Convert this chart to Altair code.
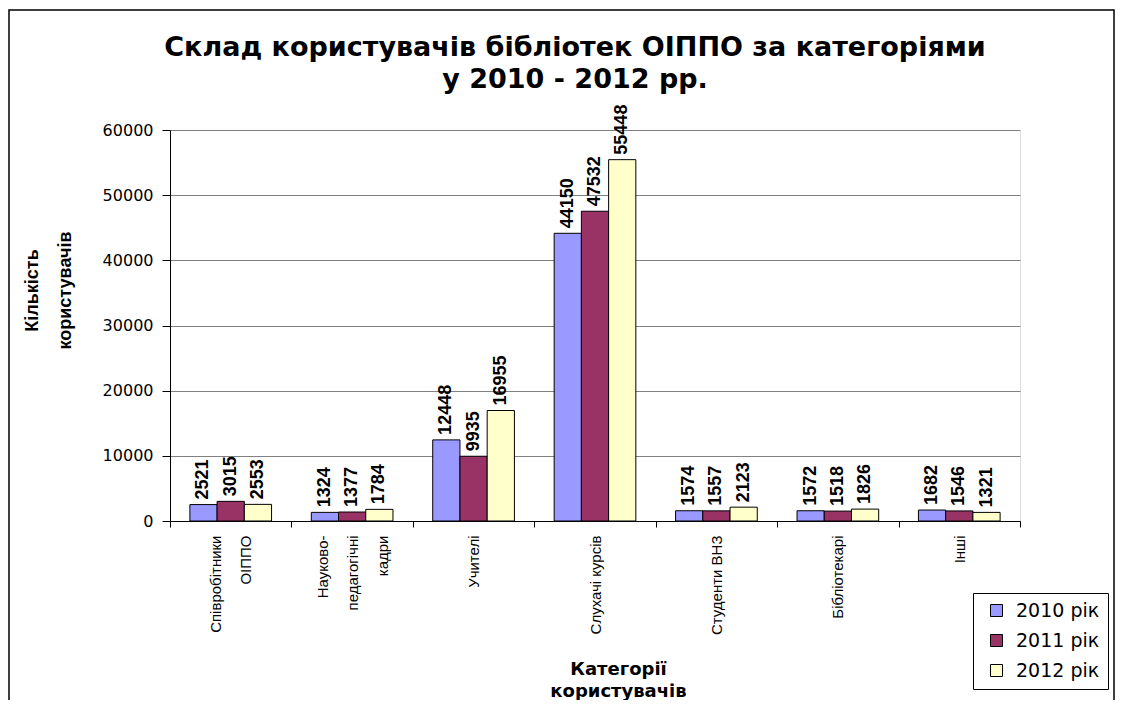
import json
import altair as alt
import pandas as pd

categories = ["Співробітники ОІППО", "Науково-педагогічні кадри", "Учителі",
              "Слухачі курсів", "Студенти ВНЗ", "Бібліотекарі", "Інші"]
category_lines = [["Співробітники", "ОІППО"], ["Науково-", "педагогічні", "кадри"],
                  ["Учителі"], ["Слухачі курсів"], ["Студенти ВНЗ"], ["Бібліотекарі"], ["Інші"]]
series = ["2010 рік", "2011 рік", "2012 рік"]
v2010 = [2521, 1324, 12448, 44150, 1574, 1572, 1682]
v2011 = [3015, 1377, 9935, 47532, 1557, 1518, 1546]
v2012 = [2553, 1784, 16955, 55448, 2123, 1826, 1321]
colors = ["#9999FF", "#993366", "#FFFFCC"]
y_ticks = [0, 10000, 20000, 30000, 40000, 50000, 60000]
title_lines = ["Склад користувачів бібліотек ОІППО за категоріями", "у 2010 - 2012 рр."]
y_title = ["Кількість", "користувачів"]
x_title = ["Категорії", "користувачів"]

# centring of short lines inside rotated, right-aligned multi-line labels
line_pad = {"ОІППО": 7, "кадри": 5, "Науково-": 1}
LINE_H = 30

rows = []
for s, vals in zip(series, [v2010, v2011, v2012]):
    for c, v in zip(categories, vals):
        rows.append({"cat": c, "year": s, "value": v})
df = pd.DataFrame(rows)

label_expr = ""
for c, lines in zip(categories, category_lines):
    padded = [ln + "\u00a0" * line_pad.get(ln, 0) for ln in lines]
    label_expr += f"datum.label == {json.dumps(c)} ? {json.dumps(padded, ensure_ascii=False)} : "
label_expr += "datum.label"

offset_conditions = []
for c, lines in zip(categories, category_lines):
    if len(lines) > 1:
        offset_conditions.append({"test": f"datum.label == {json.dumps(c)}",
                                  "value": -(len(lines) - 1) * LINE_H / 2})

SANS = "Liberation Sans, Arial"
WIDE = "DejaVu Sans"

x_enc = alt.X("cat:N", sort=categories,
              scale=alt.Scale(paddingInner=0, paddingOuter=0),
              axis=alt.Axis(title=x_title, labelExpr=label_expr, labelAngle=270,
                            labelAlign="right", labelBaseline="middle",
                            labelFont=SANS, labelFontSize=15, labelLineHeight=LINE_H,
                            labelColor="black", labelPadding=8,
                            labelOffset={"condition": offset_conditions, "value": 0},
                            tickBand="extent", tickSize=6, tickColor="black",
                            domainColor="black", grid=False,
                            titleFont=WIDE, titleFontSize=18, titleFontWeight="bold",
                            titleColor="black", titleLineHeight=22,
                            titleX=448, titleY=153, titleAlign="center",
                            titleBaseline="alphabetic", titleAnchor="start"))
xoff_enc = alt.XOffset("year:N", sort=series,
                       scale=alt.Scale(paddingInner=0, paddingOuter=0.73))
y_enc = alt.Y("value:Q", scale=alt.Scale(domain=[0, 60000], nice=False),
              axis=alt.Axis(values=y_ticks, format="d", title=y_title, grid=True,
                            gridColor="#808080", gridWidth=1,
                            domainColor="black", tickColor="black", tickSize=8,
                            labelFont=WIDE, labelFontSize=16, labelColor="black",
                            labelPadding=9,
                            titleFont=SANS, titleFontSize=18, titleFontWeight="bold",
                            titleColor="black", titleAngle=270, titleLineHeight=33,
                            titleX=-138, titleY=160, titleAlign="center",
                            titleBaseline="middle", titleAnchor="start"))

bars = alt.Chart(df).mark_bar(stroke="black", strokeWidth=1).encode(
    x=x_enc, xOffset=xoff_enc, y=y_enc,
    fill=alt.Fill("year:N", sort=series,
                  scale=alt.Scale(domain=series, range=colors),
                  legend=alt.Legend(title=None, orient="none", legendX=803, legendY=463,
                                    direction="vertical", fillColor="white",
                                    strokeColor="black", padding=8,
                                    symbolType="square", symbolSize=144,
                                    symbolStrokeColor="black", symbolStrokeWidth=1,
                                    symbolOpacity=1, symbolOffset=6,
                                    labelFont=WIDE, labelFontSize=19, labelColor="black",
                                    rowPadding=10, labelOffset=10)),
)

labels = alt.Chart(df).mark_text(angle=270, align="left", baseline="middle", dx=5,
                                 font=SANS, fontSize=18, fontWeight="bold",
                                 color="black").encode(
    x=alt.X("cat:N", sort=categories), xOffset=alt.XOffset("year:N", sort=series),
    y="value:Q", text="value:Q",
)

frame = alt.Chart(alt.Data(values=[{"f": 1}])).mark_rect(
    fill=None, stroke="black", strokeWidth=1.5).encode(
    x=alt.value(-161), x2=alt.value(944), y=alt.value(-120), y2=alt.value(700))

chart = alt.layer(frame, bars, labels).properties(
    width=850, height=391,
    title=alt.Title(text=title_lines, font=WIDE, fontSize=27, fontWeight="bold",
                    color="black", anchor="middle", dx=-20, dy=85, offset=0,
                    lineHeight=32),
    autosize=alt.AutoSizeParams(type="none"),
    padding={"left": 162, "top": 122, "right": 95, "bottom": 179},
).configure_view(fill="#C0C0C0", stroke="#808080", strokeWidth=1
).configure(background="white")

chart.save("out.html", embed_options={"renderer": "svg", "actions": False})
